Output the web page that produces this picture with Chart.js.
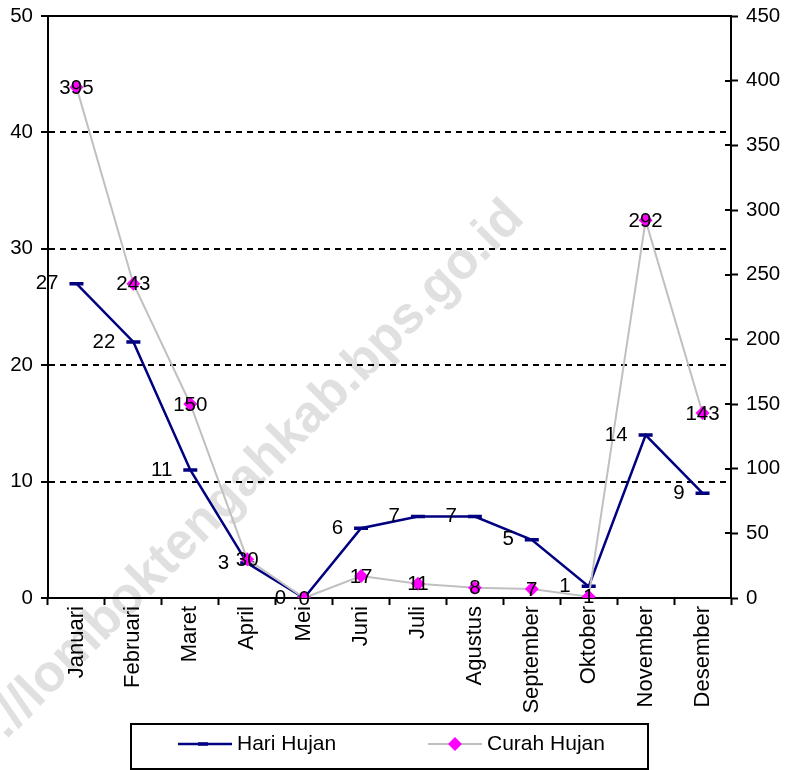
<!doctype html>
<html>

<head>
	<title>Hari Hujan dan Curah Hujan</title>
	<script src="https://cdn.jsdelivr.net/npm/chart.js@4"></script>
	<style>
		body { margin: 0; background: #fff; }
	</style>
</head>

<body>
	<canvas id="chart-area" width="786" height="770"></canvas>
	<script>
		const months = ['Januari', 'Februari', 'Maret', 'April', 'Mei', 'Juni', 'Juli',
			'Agustus', 'September', 'Oktober', 'November', 'Desember'];
		const hariHujan = [27, 22, 11, 3, 0, 6, 7, 7, 5, 1, 14, 9];
		const curahHujan = [395, 243, 150, 30, 0, 17, 11, 8, 7, 1, 292, 143];
		const leftTicks = [0, 10, 20, 30, 40, 50];
		const rightTicks = [0, 50, 100, 150, 200, 250, 300, 350, 400, 450];

		const FONT = '"Liberation Sans", Arial, sans-serif';
		const NAVY = '#000080';
		const GREY = '#c0c0c0';
		const MAGENTA = '#ff00ff';

		// faint site watermark behind everything
		const watermark = {
			id: 'watermark',
			beforeDraw(chart) {
				const ctx = chart.ctx;
				ctx.save();
				ctx.translate(526, 220);
				ctx.rotate(-Math.PI / 4);
				ctx.font = 'bold 52px ' + FONT;
				ctx.fillStyle = '#e0e0e0';
				ctx.textAlign = 'right';
				ctx.textBaseline = 'alphabetic';
				ctx.fillText('http://lomboktengahkab.bps.go.id', 0, 0);
				ctx.restore();
			}
		};

		// value labels next to the points
		const valueLabels = {
			id: 'valueLabels',
			afterDatasetsDraw(chart) {
				const ctx = chart.ctx;
				ctx.save();
				ctx.font = '20.5px ' + FONT;
				ctx.fillStyle = '#000';
				ctx.textBaseline = 'middle';
				chart.getDatasetMeta(0).data.forEach((pt, i) => {
					ctx.textAlign = 'right';
					ctx.fillText(String(hariHujan[i]), pt.x - 18, pt.y);
				});
				chart.getDatasetMeta(1).data.forEach((pt, i) => {
					ctx.textAlign = 'center';
					ctx.fillText(String(curahHujan[i]), pt.x, pt.y + 1);
				});
				ctx.restore();
			}
		};

		// boxed legend under the month labels, plus frame details
		const boxLegend = {
			id: 'boxLegend',
			afterDraw(chart) {
				const ctx = chart.ctx;
				const area = chart.chartArea;
				ctx.save();
				// solid top frame line
				ctx.strokeStyle = '#000';
				ctx.lineWidth = 2;
				ctx.beginPath();
				ctx.moveTo(area.left, area.top);
				ctx.lineTo(area.right, area.top);
				ctx.stroke();
				// right axis ticks also poke inside
				const y1 = chart.scales.y1;
				rightTicks.forEach((v) => {
					const py = Math.round(y1.getPixelForValue(v));
					ctx.beginPath();
					ctx.moveTo(area.right - 6, py);
					ctx.lineTo(area.right, py);
					ctx.stroke();
				});

				ctx.strokeRect(131, 724, 517, 45);
				const y = 744;
				ctx.font = '21px ' + FONT;
				ctx.textBaseline = 'middle';
				ctx.textAlign = 'left';

				ctx.strokeStyle = NAVY;
				ctx.lineWidth = 2.5;
				ctx.beginPath();
				ctx.moveTo(178, y);
				ctx.lineTo(232, y);
				ctx.stroke();
				ctx.lineWidth = 3.5;
				ctx.beginPath();
				ctx.moveTo(198, y);
				ctx.lineTo(208, y);
				ctx.stroke();
				ctx.fillStyle = '#000';
				ctx.fillText('Hari Hujan', 237, y);

				ctx.strokeStyle = GREY;
				ctx.lineWidth = 2;
				ctx.beginPath();
				ctx.moveTo(428, y);
				ctx.lineTo(482, y);
				ctx.stroke();
				ctx.fillStyle = MAGENTA;
				ctx.beginPath();
				ctx.moveTo(455, y - 7);
				ctx.lineTo(462, y);
				ctx.lineTo(455, y + 7);
				ctx.lineTo(448, y);
				ctx.closePath();
				ctx.fill();
				ctx.fillStyle = '#000';
				ctx.fillText('Curah Hujan', 487, y);
				ctx.restore();
			}
		};

		const config = {
			type: 'line',
			data: {
				labels: months,
				datasets: [{
					label: 'Hari Hujan',
					data: hariHujan,
					yAxisID: 'y',
					order: 1,
					borderColor: NAVY,
					backgroundColor: NAVY,
					borderWidth: 2.5,
					pointStyle: 'line',
					pointRadius: 7,
					pointBorderWidth: 3.5,
					pointBorderColor: NAVY,
					tension: 0
				}, {
					label: 'Curah Hujan',
					data: curahHujan,
					yAxisID: 'y1',
					order: 0,
					borderColor: GREY,
					backgroundColor: MAGENTA,
					borderWidth: 2,
					pointStyle: 'rectRot',
					pointRadius: 7,
					pointBorderWidth: 0,
					pointBackgroundColor: MAGENTA,
					tension: 0
				}]
			},
			options: {
				responsive: false,
				animation: false,
				layout: {
					padding: { top: 16, left: 0, right: 0, bottom: 47 }
				},
				plugins: {
					legend: { display: false },
					title: { display: false },
					tooltip: { enabled: false }
				},
				scales: {
					x: {
						offset: true,
						grid: {
							offset: true,
							drawOnChartArea: false,
							tickLength: 7,
							tickColor: '#000',
							tickWidth: 2
						},
						border: { color: '#000', width: 2 },
						ticks: {
							color: '#000',
							font: { family: FONT, size: 22 },
							minRotation: 90,
							maxRotation: 90,
							padding: 1
						},
						afterFit(scale) { scale.height = 125; }
					},
					y: {
						position: 'left',
						min: 0,
						max: 50,
						afterBuildTicks(scale) { scale.ticks = leftTicks.map(v => ({ value: v })); },
						grid: {
							color: '#000',
							lineWidth: 2,
							tickLength: 7,
							tickColor: '#000',
							tickWidth: 2
						},
						border: {
							color: '#000',
							width: 2,
							dash: (ctx) => (ctx.tick && (ctx.tick.value === 50 || ctx.tick.value === 0)) ? [] : [6, 5]
						},
						ticks: {
							color: '#000',
							font: { family: FONT, size: 20.5 },
							padding: 8
						},
						afterFit(scale) {
							scale.width = 48;
							scale.paddingTop = 0;
							scale.paddingBottom = 0;
						}
					},
					y1: {
						position: 'right',
						min: 0,
						max: 450,
						afterBuildTicks(scale) { scale.ticks = rightTicks.map(v => ({ value: v })); },
						grid: {
							drawOnChartArea: false,
							tickLength: 7,
							tickColor: '#000',
							tickWidth: 2
						},
						border: { color: '#000', width: 2 },
						ticks: {
							color: '#000',
							font: { family: FONT, size: 20.5 },
							padding: 8
						},
						afterFit(scale) {
							scale.width = 55;
							scale.paddingTop = 0;
							scale.paddingBottom = 0;
						}
					}
				}
			},
			plugins: [watermark, valueLabels, boxLegend]
		};

		window.onload = function() {
			const ctx = document.getElementById('chart-area');
			window.myChart = new Chart(ctx, config);
		};
	</script>
</body>

</html>
